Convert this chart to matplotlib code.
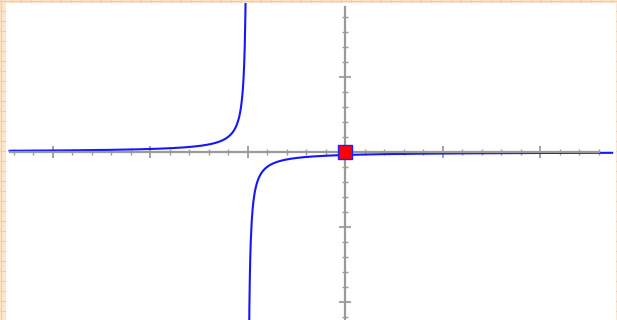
import numpy as np
import matplotlib
matplotlib.use("Agg")
import matplotlib.pyplot as plt
from matplotlib.ticker import MultipleLocator

# --- data ---
asymptote_x = -5.0          # vertical asymptote
coef = -1.0                 # y = coef / (x - asymptote_x)
x_left_end, x_right_end = -17.2, 13.7
x_axis_range = (-17.2, 13.0)
y_axis_range = (-11.5, 9.7)
point = (0.0, 0.0)
major_step, minor_step = 5, 1

W, H = 617, 320
fig = plt.figure(figsize=(W / 100, H / 100), dpi=100)
fig.patch.set_facecolor("#FDE6CF")

# background pattern
bg = fig.add_axes([0, 0, 1, 1])
bg.set_xlim(0, W)
bg.set_ylim(H, 0)
bg.set_facecolor("#FDE6CF")
for gx in np.arange(1, W, 10):
    bg.axvline(gx, color="#F7CB98", lw=0.8)
for gy in np.arange(1, H, 10):
    bg.axhline(gy, color="#F7CB98", lw=0.8)
bg.axis("off")

# plot area (white)
left_px, right_px, top_px, bottom_px = 6, 616, 3, 320
ax = fig.add_axes([left_px / W, 1 - bottom_px / H,
                   (right_px - left_px) / W, (bottom_px - top_px) / H])
ax.set_facecolor("white")
px_per_x, px_per_y = 19.5, 15.0
ox, oy = 345, 152
ax.set_xlim((left_px - ox) / px_per_x, (right_px - ox) / px_per_x)
ax.set_ylim((oy - bottom_px) / px_per_y, (oy - top_px) / px_per_y)

for s in ["top", "right"]:
    ax.spines[s].set_visible(False)
ax.spines["left"].set_position("zero")
ax.spines["bottom"].set_position("zero")
ax.spines["bottom"].set_bounds(*x_axis_range)
ax.spines["left"].set_bounds(*y_axis_range)
for s in ["left", "bottom"]:
    ax.spines[s].set_color("#9A9A9A")
    ax.spines[s].set_linewidth(1.6)

ax.tick_params(which="major", direction="inout", length=8, width=1.3,
               color="#9A9A9A", labelbottom=False, labelleft=False)
ax.tick_params(which="minor", direction="inout", length=5, width=1.0,
               color="#9A9A9A")
# drop ticks at origin
ax.set_xticks([t for t in np.arange(-15, 14, major_step) if t != 0])
ax.set_yticks([t for t in np.arange(-10, 10, major_step) if t != 0])
ax.set_xticks([t for t in np.arange(-17, 14, minor_step) if t % 5 != 0], minor=True)
ax.set_yticks([t for t in np.arange(-11, 10, minor_step) if t % 5 != 0], minor=True)

# curve
xl = np.linspace(x_left_end, asymptote_x - 0.08, 800)
xr = np.linspace(asymptote_x + 0.05, x_right_end, 800)
ax.plot(xl, coef / (xl - asymptote_x), color="#1515FF", lw=1.5, clip_on=True)
ax.plot(xr, coef / (xr - asymptote_x), color="#1515FF", lw=1.5, clip_on=True)

ax.plot([point[0]], [point[1]], marker="s", markersize=9.5, color="#FF0000",
        markeredgecolor="#2020FF", markeredgewidth=1.0, zorder=5)

fig.savefig("out.png", dpi=100, facecolor=fig.get_facecolor())
